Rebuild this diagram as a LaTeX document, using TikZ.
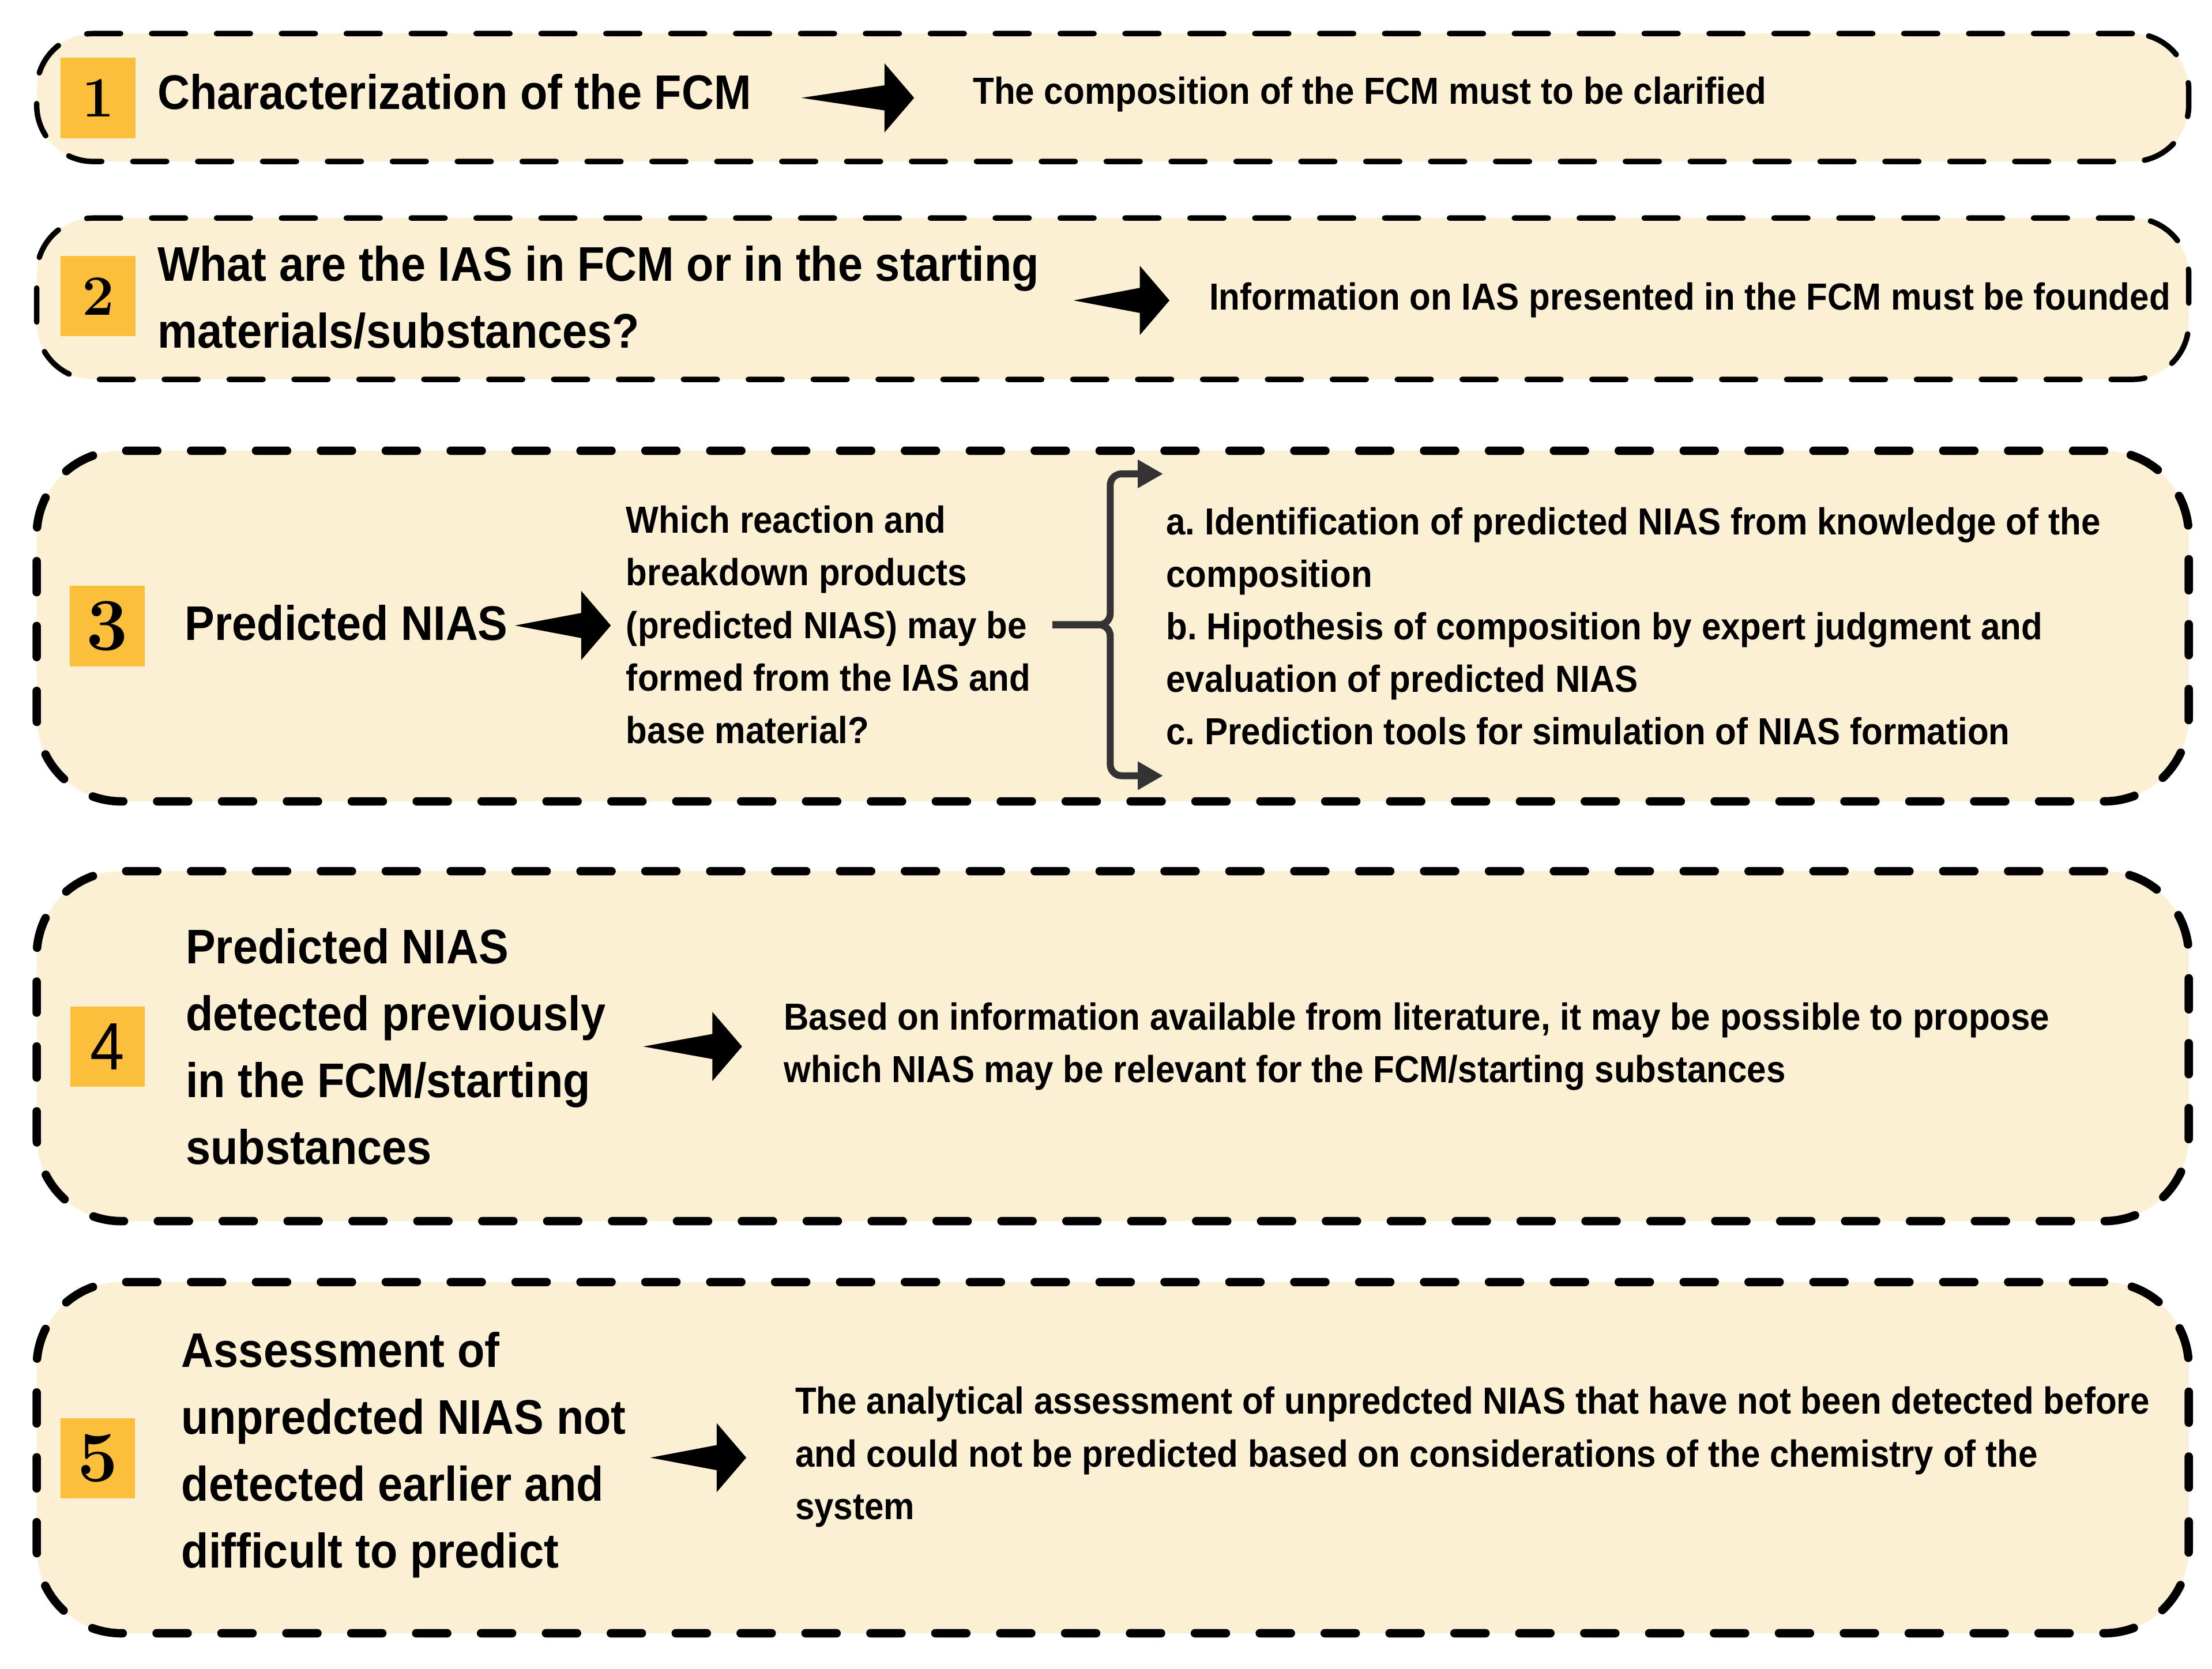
\documentclass[tikz,border=0pt]{standalone}
\usepackage{fontspec}
\setsansfont{Liberation Sans}[FakeStretch=0.92]
\usepackage{xcolor}
\usepackage{tikz}
\usetikzlibrary{arrows.meta,positioning}
\frenchspacing

\definecolor{creambg}{HTML}{FCF0D4}
\definecolor{badgeorg}{HTML}{FBBF3C}
\definecolor{bracegray}{HTML}{333333}

\begin{document}
\begin{tikzpicture}[
    every node/.style={font=\sffamily\bfseries, inner sep=0pt},
    stagebox/.style={
      rectangle, draw=black, fill=creambg, line width=1.1pt, line cap=round,
      dash pattern=on 0.24cm off 0.22cm, rounded corners=0.4cm, minimum width=15.255cm
    },
    bigstage/.style={stagebox, line width=1.7pt, dash pattern=on 0.22cm off 0.24cm, rounded corners=0.6cm},
    numbadge/.style={
      rectangle, fill=badgeorg, minimum width=0.53cm, minimum height=0.57cm,
      font=\rmfamily\bfseries\fontsize{11.5}{12}\selectfont
    },
    headtxt/.style={anchor=west, align=left, font=\sffamily\bfseries\fontsize{9.8}{13.5}\selectfont},
    notetxt/.style={anchor=west, align=left, font=\sffamily\bfseries\fontsize{7.6}{10.6}\selectfont},
    fatarr/.style={fill=black, to path={
      (\tikztostart) -- ([shift={(-0.21,0.089)}]\tikztotarget)
      -- ([shift={(-0.21,0.245)}]\tikztotarget) -- (\tikztotarget)
      -- ([shift={(-0.21,-0.245)}]\tikztotarget)
      -- ([shift={(-0.21,-0.089)}]\tikztotarget) -- cycle}},
    bracearr/.style={-{Triangle[length=0.18cm, width=0.19cm]}, line width=1.4pt, bracegray, rounded corners=0.08cm}
  ]
    \useasboundingbox (0,0) rectangle (15.68,11.83);

    % ── Stage boxes ──
    \node[stagebox, minimum height=0.907cm] (s1) at (7.8875,11.1385) {};
    \node[stagebox, minimum height=1.144cm] (s2) at (7.8875,9.712) {};
    \node[bigstage, minimum height=2.486cm] (s3) at (7.8875,7.391) {};
    \node[bigstage, minimum height=2.481cm] (s4) at (7.8875,4.4125) {};
    \node[bigstage, minimum height=2.49cm] (s5) at (7.8875,1.495) {};

    % ── Number badges ──
    \node[numbadge] (n1) at (0.695,11.135) {1};
    \node[numbadge] (n2) at (0.695,9.73) {2};
    \node[numbadge, font=\rmfamily\bfseries\fontsize{15}{15}\selectfont] (n3) at (0.761,7.39) {3};
    \node[numbadge, font=\sffamily\fontsize{13.5}{14}\selectfont] (n4) at (0.763,4.41) {4};
    \node[numbadge, font=\rmfamily\bfseries\fontsize{14.5}{15}\selectfont] (n5) at (0.693,1.49) {5};

    % ── Stage 1 ──
    \node[headtxt] (h1) at (1.11,11.177) {Characterization of the FCM};
    \node[notetxt] (r1) at (6.89,11.16) {The composition of the FCM must to be clarified};
    \coordinate (a1t) at (5.68,11.136);
    \coordinate (a1h) at (6.48,11.136);
    \fill[fatarr] (a1t) to (a1h);

    % ── Stage 2 ──
    \node[headtxt] (h2) at (1.11,9.72) {What are the IAS in FCM or in the starting\\materials/substances?};
    \node[notetxt] (r2) at (8.565,9.70) {Information on IAS presented in the FCM must be founded};
    \coordinate (a2t) at (7.61,9.70);
    \coordinate (a2h) at (8.29,9.70);
    \fill[fatarr] (a2t) to (a2h);

    % ── Stage 3 ──
    \node[headtxt] (h3) at (1.304,7.414) {Predicted NIAS};
    \node[notetxt] (q3) at (4.432,7.40) {Which reaction and\\breakdown products\\(predicted NIAS) may be\\formed from the IAS and\\base material?};
    \node[notetxt] (l3) at (8.26,7.39) {a. Identification of predicted NIAS from knowledge of the\\composition\\b. Hipothesis of composition by expert judgment and\\evaluation of predicted NIAS\\c. Prediction tools for simulation of NIAS formation};
    \coordinate (a3t) at (3.65,7.395);
    \coordinate (a3h) at (4.33,7.395);
    \fill[fatarr] (a3t) to (a3h);

    \coordinate (bs) at (7.46,7.40);
    \coordinate (bt) at (8.245,8.47);
    \coordinate (bb) at (8.245,6.33);
    \draw[bracearr] (bs) -- ++(0.41,0) |- (bt);
    \draw[bracearr] (bs) -- ++(0.41,0) |- (bb);

    % ── Stage 4 ──
    \node[headtxt] (h4) at (1.31,4.41) {Predicted NIAS\\detected previously\\in the FCM/starting\\substances};
    \node[notetxt] (r4) at (5.55,4.41) {Based on information available from literature, it may be possible to propose\\which NIAS may be relevant for the FCM/starting substances};
    \coordinate (a4t) at (4.56,4.41);
    \coordinate (a4h) at (5.26,4.41);
    \fill[fatarr] (a4t) to (a4h);

    % ── Stage 5 ──
    \node[headtxt] (h5) at (1.28,1.515) {Assessment of\\unpredcted NIAS not\\detected earlier and\\difficult to predict};
    \node[notetxt] (r5) at (5.63,1.50) {The analytical assessment of unpredcted NIAS that have not been detected before\\and could not be predicted based on considerations of the chemistry of the\\system};
    \coordinate (a5t) at (4.61,1.495);
    \coordinate (a5h) at (5.29,1.495);
    \fill[fatarr] (a5t) to (a5h);

  \end{tikzpicture}
\end{document}
